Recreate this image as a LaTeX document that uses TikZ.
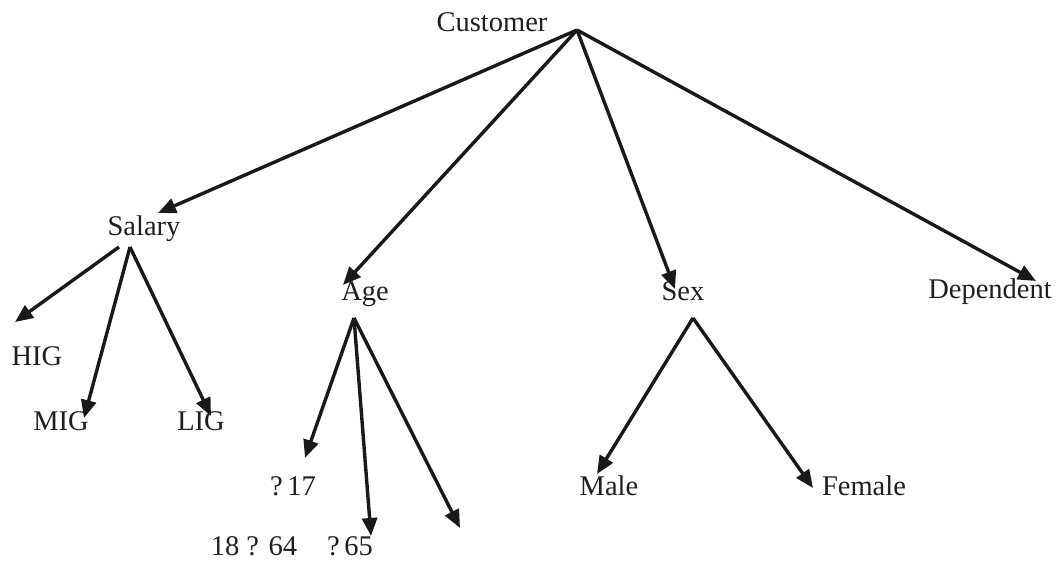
\documentclass[tikz,border=0pt]{standalone}
\usepackage{fontspec}
\setmainfont{Liberation Serif}
\usetikzlibrary{arrows.meta}
\tikzset{
  lbl/.style={inner sep=0pt, anchor=base, font=\fontsize{28.5pt}{32pt}\selectfont, text=black!88},
  conn/.style={line width=3.4pt, draw=black!90, -{Triangle[length=18pt,width=15pt]}}
}
\begin{document}
\begin{tikzpicture}[x=1pt,y=-1pt]
\useasboundingbox (0,0) rectangle (1057,562);
% labels
\node[lbl] (cust) at (492,31) {Customer};
\node[lbl] (sal) at (144,235) {Salary};
\node[lbl] (age) at (365,300) {Age};
\node[lbl] (sex) at (683,300) {Sex};
\node[lbl] (dep) at (990,298) {Dependent};
\node[lbl] (hig) at (37,365) {HIG};
\node[lbl] (mig) at (61,430) {MIG};
\node[lbl] (lig) at (201,430) {LIG};
\node[lbl] (a17) at (293,495) {?\,17};
\node[lbl] (a64) at (254,555) {18 ? 64};
\node[lbl] (a65) at (350,555) {?\,65};
\node[lbl] (male) at (609,495) {Male};
\node[lbl] (fem) at (864,495) {Female};
% apex points
\coordinate (cA) at (577,30);
\coordinate (sA1) at (119,247);
\coordinate (sA) at (130,247);
\coordinate (aA) at (354,318);
\coordinate (xA) at (693,318);
% tips
\coordinate (tSal) at (158,213);
\coordinate (tAge) at (343,285);
\coordinate (tSex) at (675,289);
\coordinate (tDep) at (1036,281);
\coordinate (tHig) at (15,322);
\coordinate (tMig) at (84,418);
\coordinate (tLig) at (211,416);
\coordinate (t17) at (305,458);
\coordinate (t65) at (371,536);
\coordinate (tEnd) at (460,528);
\coordinate (tMale) at (597,474);
\coordinate (tFem) at (813,488);
% connectors
\draw[conn] (cA) -- (tSal);
\draw[conn] (cA) -- (tAge);
\draw[conn] (cA) -- (tSex);
\draw[conn] (cA) -- (tDep);
\draw[conn] (sA1) -- (tHig);
\draw[conn] (sA) -- (tMig);
\draw[conn] (sA) -- (tLig);
\draw[conn] (aA) -- (t17);
\draw[conn] (aA) -- (t65);
\draw[conn] (aA) -- (tEnd);
\draw[conn] (xA) -- (tMale);
\draw[conn] (xA) -- (tFem);
\end{tikzpicture}
\end{document}
